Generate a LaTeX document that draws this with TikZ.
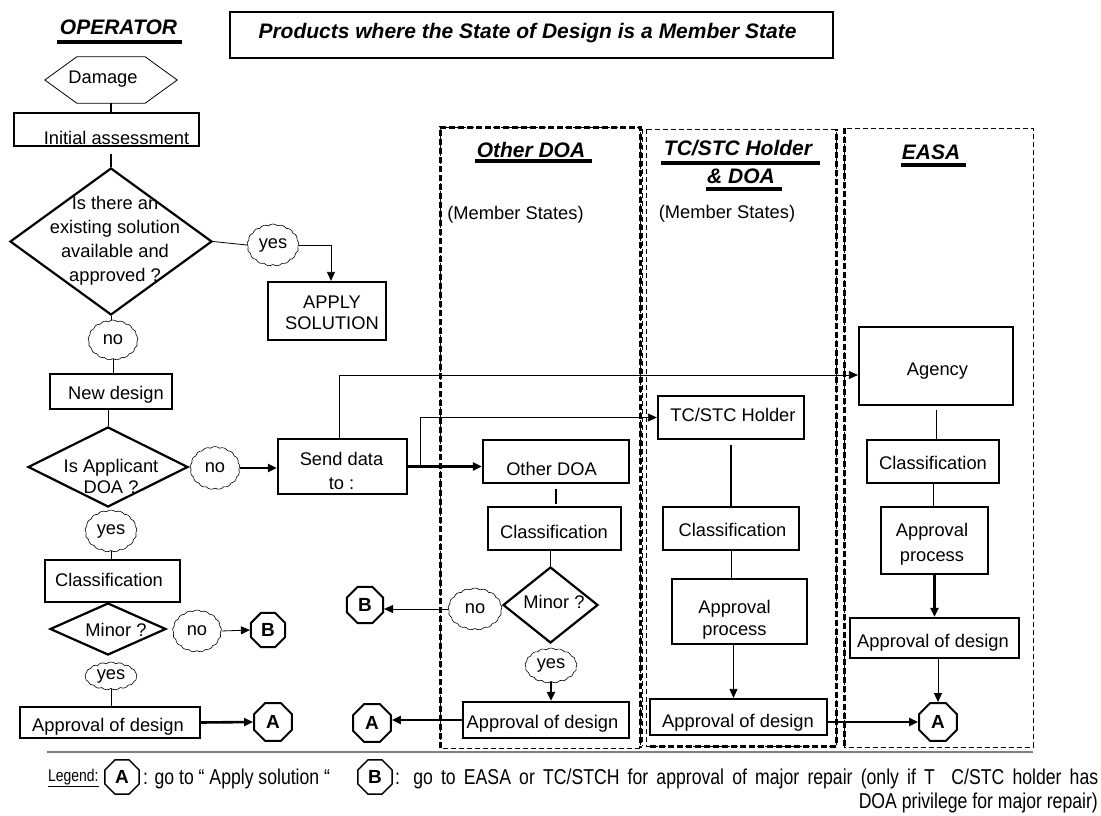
\documentclass[tikz,border=0pt]{standalone}
\usepackage{fontspec}
\setmainfont{Liberation Sans}
\newfontfamily\narrowfont[FakeStretch=0.82]{Liberation Sans}
\usetikzlibrary{shapes.geometric,shapes.symbols,arrows.meta,calc}
\begin{document}
\begin{tikzpicture}[x=1pt,y=-1pt,
  font=\fontsize{18.3}{24}\selectfont,
  box/.style={draw, line width=2.2pt, rectangle, inner sep=0pt},
  dia/.style={draw, line width=2.2pt, diamond, inner sep=0pt},
  bub/.style={draw, line width=0.6pt, cloud, cloud puffs=17, cloud puff arc=85, cloud ignores aspect, inner sep=0pt},
  oct/.style={draw, line width=2pt, regular polygon, regular polygon sides=8, inner sep=0pt, minimum size=41pt, font=\fontsize{19}{22}\selectfont\bfseries},
  txt/.style={inner sep=0pt, align=center},
  thn/.style={line width=0.8pt},
  thk/.style={line width=2.6pt},
  arr/.style={-{Triangle[length=9pt,width=8pt]}},
  hdr/.style={font=\fontsize{21}{24}\selectfont\bfseries\itshape, inner sep=0pt},
  lanethin/.style={line width=0.8pt, dash pattern=on 5pt off 3pt},
  lanethick/.style={line width=3pt, dash pattern=on 6pt off 3pt},
  legfont/.style={font=\narrowfont\fontsize{21.5}{24}\selectfont, inner sep=0pt},
]
\useasboundingbox[fill=white] (0,0) rectangle (1101,816);

% ---------- headers ----------
\node[hdr] (op) at (118.5,27) {OPERATOR};
\draw[line width=3.5pt] (57,42) -- (182,42);
\node[box, line width=2pt, minimum width=603pt, minimum height=46pt] (title) at (531.5,35) {};
\node[hdr] (titlet) at (527.5,33) {Products where the State of Design is a Member State};

% ---------- lanes ----------
\draw[lanethin] (440,127) rectangle (640,748);
\draw[lanethick] (440,748) -- (440,127) -- (640,127) -- (640,748);
\draw[lanethin] (646,129) rectangle (836,746);
\draw[lanethin] (642,129) -- (642,746);
\draw[lanethick] (650,746) -- (836,746) -- (836,129);
\draw[lanethin] (844,128) rectangle (1033,747);
\draw[lanethick] (844,128) -- (844,747);

\node[hdr] (h1) at (531,150) {Other DOA};
\draw[line width=3.5pt] (475,161) -- (592,161);
\node[txt] (ms1) at (515.5,215) {(Member States)};
\node[hdr] (h2a) at (738,148) {TC/STC Holder};
\draw[line width=3.5pt] (661,163) -- (820,163);
\node[hdr] (h2b) at (741,176) {\& DOA};
\draw[line width=3.5pt] (706,189) -- (782,189);
\node[txt] (ms2) at (727,214) {(Member States)};
\node[hdr] (h3) at (931,152) {EASA};
\draw[line width=3.5pt] (901,165) -- (966,165);

% ---------- operator column ----------
\node[inner sep=0pt, minimum width=68pt, minimum height=46pt] (dmg) at (111,80) {};
\draw[thn] (dmg.north west) -- (dmg.north east) -- ($(dmg.east)+(32,0)$) -- (dmg.south east) -- (dmg.south west) -- ($(dmg.west)+(-32,0)$) -- cycle;
\node[txt] (dmgt) at (103,79) {Damage};

\node[box, minimum width=185pt, minimum height=33pt] (ia) at (106.5,129.5) {};
\node[txt] (iat) at (116.5,138) {Initial assessment};

\node[dia, minimum width=202pt, minimum height=147pt] (d1) at (111,241.5) {};
\node[txt] (d1t) at (115,241) {Is there an\\existing solution\\available and\\approved ?};

\node[bub, minimum width=52pt, minimum height=42pt] (yes1) at (273,245) {yes};
\node[box, minimum width=118pt, minimum height=58pt] (apply) at (327,311) {};
\node[txt, font=\fontsize{18.3}{21}\selectfont] (applyt) at (332,312.5) {APPLY\\SOLUTION};

\node[bub, minimum width=50pt, minimum height=40pt] (no1) at (113,340) {no};
\node[box, minimum width=122pt, minimum height=35pt] (nd) at (111,391.5) {};
\node[txt] (ndt) at (116,395) {New design};

\node[dia, minimum width=160pt, minimum height=80pt] (d2) at (108,467) {};
\node[txt, font=\fontsize{18.3}{21}\selectfont] (d2t) at (111,476.5) {Is Applicant\\DOA ?};
\node[bub, minimum width=50pt, minimum height=43pt] (no2) at (215,468) {no};

\node[box, minimum width=129pt, minimum height=55pt] (send) at (342.5,466.5) {};
\node[txt] (sendt) at (341.5,471) {Send data\\to :};

\node[bub, minimum width=52pt, minimum height=42pt] (yes2) at (111,531) {yes};
\node[box, minimum width=135pt, minimum height=42pt] (cl1) at (112.5,581) {};
\node[txt] (cl1t) at (109,580) {Classification};

\node[dia, minimum width=116pt, minimum height=52pt] (d3) at (108,629) {};
\node[txt] (d3t) at (116,630) {Minor ?};
\node[bub, minimum width=49pt, minimum height=42pt] (no3) at (197,631) {no};
\node[oct, minimum size=37pt] (B1) at (268,630) {B};

\node[bub, minimum width=52pt, minimum height=28pt] (yes3) at (111,676) {yes};
\node[box, minimum width=180pt, minimum height=31pt] (ap1) at (110,722.5) {};
\node[txt] (ap1t) at (108,727) {Approval of design};
\node[oct] (A1) at (273,722) {A};

% ---------- Other DOA ----------
\node[box, minimum width=146pt, minimum height=43pt] (odoa) at (556,461.5) {};
\node[txt] (odoat) at (551.5,469) {Other DOA};
\node[box, minimum width=133pt, minimum height=43pt] (cl2) at (554.5,528.5) {};
\node[txt] (cl2t) at (554,532) {Classification};
\node[dia, minimum width=95pt, minimum height=76pt] (d4) at (550.5,605) {};
\node[txt] (d4t) at (554,602) {Minor ?};
\node[bub, minimum width=54pt, minimum height=42pt] (no4) at (475,609) {no};
\node[oct, minimum size=39pt] (B2) at (365,605) {B};
\node[bub, minimum width=52pt, minimum height=35pt] (yes4) at (551,665.5) {yes};
\node[box, minimum width=166pt, minimum height=36pt] (ap2) at (546,720) {};
\node[txt] (ap2t) at (542.5,724) {Approval of design};
\node[oct] (A2) at (372,723) {A};

% ---------- TC/STC ----------
\node[box, minimum width=146pt, minimum height=43pt] (tc) at (731,417.5) {};
\node[txt] (tct) at (733,415) {TC/STC Holder};
\node[box, minimum width=136pt, minimum height=43pt] (cl3) at (731,528.5) {};
\node[txt] (cl3t) at (732.5,530) {Classification};
\node[box, minimum width=135pt, minimum height=65pt] (pr3) at (739.5,611.5) {};
\node[txt, font=\fontsize{18.3}{22}\selectfont] (pr3t) at (734.5,620) {Approval\\process};
\node[box, minimum width=177pt, minimum height=36pt] (ap3) at (738.5,717) {};
\node[txt] (ap3t) at (738,723) {Approval of design};
\node[oct] (A3) at (938,722) {A};

% ---------- EASA ----------
\node[box, minimum width=154pt, minimum height=78pt] (agency) at (936,366) {};
\node[txt] (agencyt) at (937.5,371) {Agency};
\node[box, minimum width=132pt, minimum height=43pt] (cl4) at (933,461.5) {};
\node[txt] (cl4t) at (933,463) {Classification};
\node[box, minimum width=107pt, minimum height=67pt] (pr4) at (934.5,540.5) {};
\node[txt, font=\fontsize{18.3}{25}\selectfont] (pr4t) at (932,544) {Approval\\process};
\node[box, minimum width=169pt, minimum height=40pt] (ap4) at (934.5,638) {};
\node[txt] (ap4t) at (933,643) {Approval of design};

% ---------- connectors ----------
\draw[thk] (dmg.south) -- (dmg.south |- ia.north);
\draw[thk] ([yshift=-7pt]ia.south -| d1.north) -- (d1.north);
\draw[thn] (d1.east) -- (yes1.west);
\draw[thn, arr] (yes1.east) -| ([xshift=4pt]apply.north);
\draw[thn] (d1.south) -- (d1.south |- no1.north);
\draw[thn] (no1.south) -- (no1.south |- nd.north);
\draw[thn] (d2.north |- nd.south) -- (d2.north);
\draw[line width=2pt, arr] (no2.east) -- (no2.east -| send.west);
\draw[thn] (yes2.south) -- (yes2.south |- cl1.north);
\draw[thn, arr] (no3.east) -- (B1.west);
\draw[thn] (yes3.south) -- (yes3.south |- ap1.north);
\draw[thk, arr] (ap1.east) -- (A1.west);

\draw[thn, arr] ([xshift=-3pt]send.north) |- ([yshift=-9pt]agency.west);
\draw[thk, arr] (send.east) -- (send.east -| odoa.west);
\coordinate (br) at (420,466.5);
\draw[thn, arr] (br) |- (tc.west);

\draw[thk, shorten <=5pt, shorten >=2pt] (odoa.south) -- (odoa.south |- cl2.north);
\draw[thn] (d4.north |- cl2.south) -- (d4.north);
\draw[thn, arr] (no4.west) -- (no4.west -| B2.east);
\draw[thk, arr] (yes4.south) -- (yes4.south |- ap2.north);
\draw[thk, arr] (ap2.west) -- (ap2.west -| A2.east);

\draw[thk, shorten <=5pt] (tc.south) -- (tc.south |- cl3.north);
\draw[thn] (cl3.south) -- (cl3.south |- pr3.north);
\draw[thn, arr] ([xshift=-6pt]pr3.south) -- ([xshift=-6pt]pr3.south |- ap3.north);
\draw[thk, arr] (A3.west -| ap3.east) -- (A3.west);

\draw[thn, shorten <=4pt] (agency.south) -- (agency.south |- cl4.north);
\draw[thn] (cl4.south) -- (cl4.south |- pr4.north);
\draw[thk, arr] (pr4.south) -- (pr4.south |- ap4.north);
\draw[thn, arr] (A3.north |- ap4.south) -- (A3.north);

% ---------- legend ----------
\draw[gray, line width=1.2pt] (47,752) -- (1033,752);
\node[anchor=base west, inner sep=0pt, font=\narrowfont\fontsize{17}{20}\selectfont] (leg) at (48,781) {\underline{Legend:}};
\node[oct, line width=1.5pt, minimum size=37pt] (LA) at (122,777) {A};
\node[anchor=base west, legfont] (legA) at (143,784) {: go to “ Apply solution “};
\node[oct, line width=1.5pt, minimum size=37pt] (LB) at (375,777) {B};
\node[anchor=base west, legfont] (legB) at (395,784) {\hbox to 703pt{: go to EASA or TC/STCH for approval of major repair (only if T\ \ C/STC holder has}};
\node[anchor=base east, legfont] (legB2) at (1098,808) {DOA privilege for major repair)};
\end{tikzpicture}
\end{document}
